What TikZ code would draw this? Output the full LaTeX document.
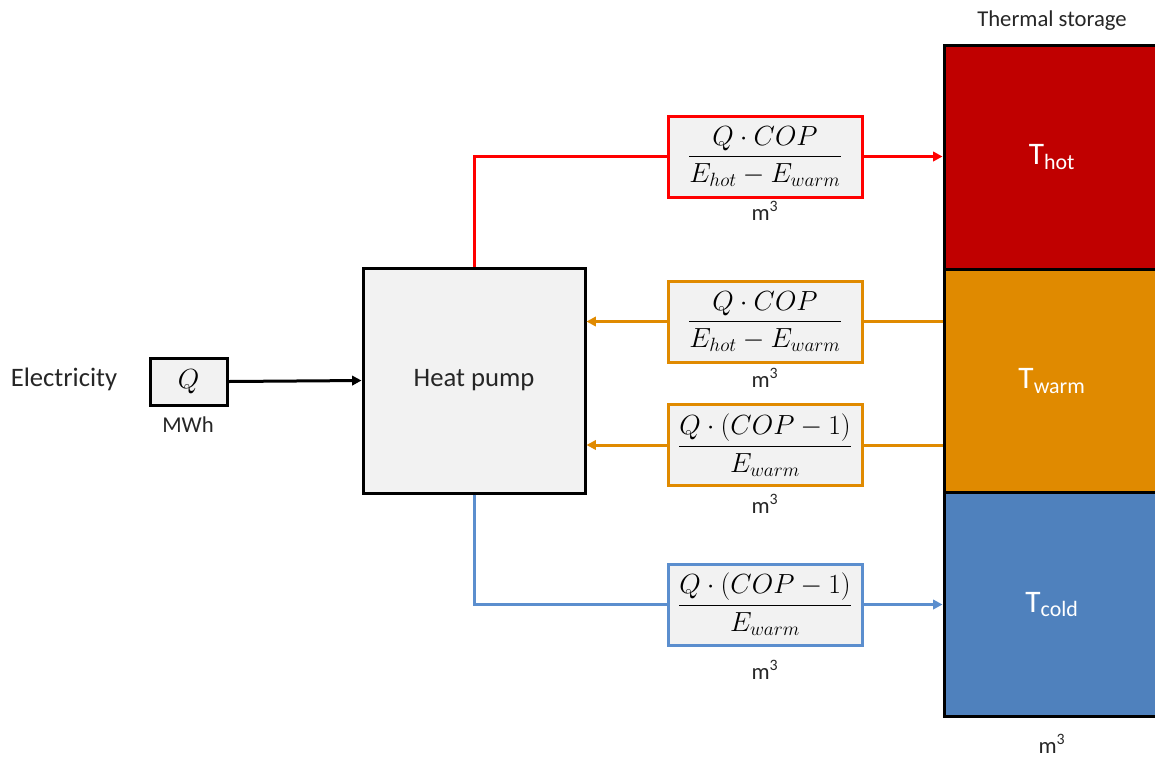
\documentclass[tikz,border=0pt]{standalone}
\usepackage{amsmath}
\usepackage{fontspec}
\setmainfont{Carlito}
\usetikzlibrary{arrows.meta}
\definecolor{boxfill}{HTML}{F2F2F2}
\definecolor{hotred}{HTML}{C00000}
\definecolor{linered}{HTML}{FF0000}
\definecolor{warmorange}{HTML}{E08A00}
\definecolor{coldblue}{HTML}{4F81BD}
\definecolor{lineblue}{HTML}{5B8ECE}
\definecolor{txt}{HTML}{262626}
\newcommand{\cubic}{m\textsuperscript{3}}
\tikzset{
  formbox/.style={draw, fill=boxfill, line width=2.25pt, minimum width=145.5pt, minimum height=60.75pt, inner sep=0pt, font=\fontsize{19.5}{22}\selectfont},
  store/.style={draw=black, line width=2.25pt, minimum width=162pt, minimum height=167.5pt, inner sep=0pt, text=white, font=\fontsize{23.5}{27}\selectfont},
  unit/.style={text=txt, font=\fontsize{17}{20}\selectfont, inner sep=0pt},
  conn/.style={line width=2.25pt},
  arr/.style={conn, -{Triangle[length=7pt,width=7pt]}},
}
\begin{document}
\begin{tikzpicture}[x=0.75pt,y=-0.75pt]
\useasboundingbox (0,0) rectangle (1155,758);
\clip (0,0) rectangle (1155,758);
% storage
\node[store, fill=hotred] (hot) at (1052,157.5) {T\textsubscript{hot}};
\node[store, fill=warmorange] (warm) at (1052,381.5) {T\textsubscript{warm}};
\node[store, fill=coldblue] (cold) at (1052,604.5) {T\textsubscript{cold}};
\node[unit] (tslab) at (1052,21) {Thermal storage};
\node[unit] (tsunit) at (1052,744) {\cubic};
% left side
\node[text=txt, font=\fontsize{20}{24}\selectfont, inner sep=0pt] (elec) at (64,379) {Electricity};
\node[draw, fill=boxfill, line width=2.25pt, minimum width=57.75pt, minimum height=35.25pt, inner sep=0pt, font=\fontsize{19.5}{22}\selectfont] (q) at (188.5,381.5) {$Q$};
\node[unit] (mwh) at (188,425) {MWh};
\node[draw, fill=boxfill, line width=2.25pt, minimum width=166.5pt, minimum height=168.75pt, inner sep=0pt, text=txt, font=\fontsize{20}{24}\selectfont] (hp) at (474,380.5) {Heat pump};
\draw[arr] (q.east) -- (hp.west);
% formula boxes
\node[formbox, draw=linered] (b1) at (765,156.5) {$\dfrac{Q\cdot COP}{E_{hot}-E_{warm}}$};
\node[unit] (u1) at (765,211) {\cubic};
\node[formbox, draw=warmorange] (b2) at (765,321.5) {$\dfrac{Q\cdot COP}{E_{hot}-E_{warm}}$};
\node[unit] (u2) at (765,378) {\cubic};
\node[formbox, draw=warmorange] (b3) at (765,445) {$\dfrac{Q\cdot (COP-1)}{E_{warm}}$};
\node[unit] (u3) at (765,504) {\cubic};
\node[formbox, draw=lineblue] (b4) at (765,604.5) {$\dfrac{Q\cdot (COP-1)}{E_{warm}}$};
\node[unit] (u4) at (765,670) {\cubic};
% connectors
\draw[conn, linered] (hp.north) |- (b1.west);
\draw[arr, linered] (b1.east) -- (b1.east -| hot.west);
\draw[conn, warmorange] (b2.east -| warm.west) -- (b2.east);
\draw[arr, warmorange] (b2.west) -- (b2.west -| hp.east);
\draw[conn, warmorange] (b3.east -| warm.west) -- (b3.east);
\draw[arr, warmorange] (b3.west) -- (b3.west -| hp.east);
\draw[conn, lineblue] (hp.south) |- (b4.west);
\draw[arr, lineblue] (b4.east) -- (b4.east -| cold.west);
\end{tikzpicture}
\end{document}
